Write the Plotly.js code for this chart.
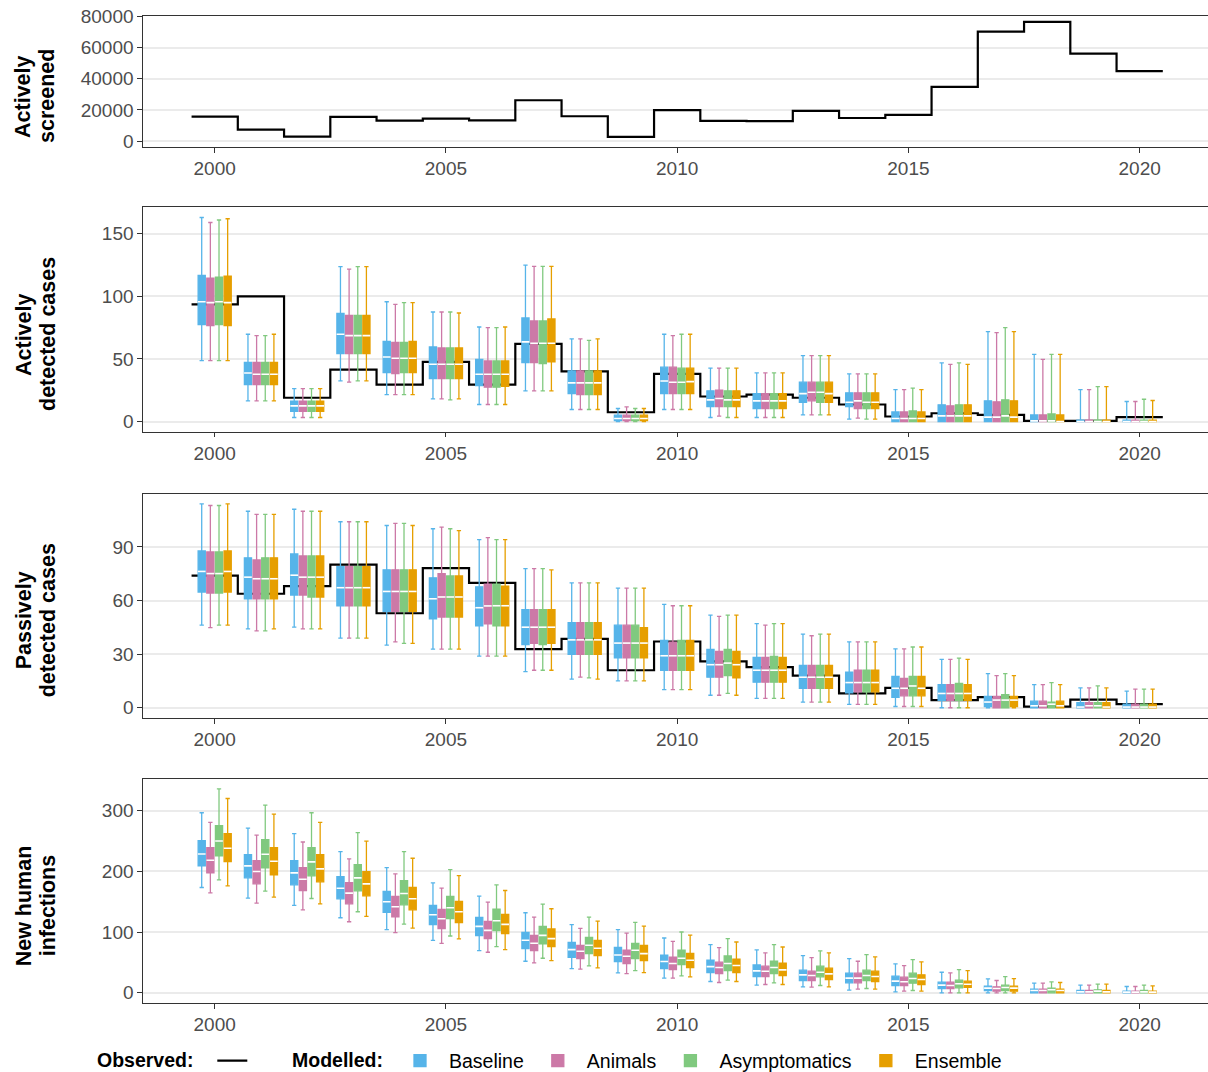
<!DOCTYPE html>
<html>
<head>
<meta charset="utf-8">
<script src="https://cdn.plot.ly/plotly-3.0.1.min.js"></script>
<style>html,body{margin:0;padding:0;background:#fff;}#chart{width:1208px;height:1072px;}</style>
</head>
<body>
<div id="chart"></div>
<script>
// ---------------- DATA ----------------
const years = [2000,2001,2002,2003,2004,2005,2006,2007,2008,2009,2010,2011,2012,2013,2014,2015,2016,2017,2018,2019,2020];
const modelNames = ['Baseline','Animals','Asymptomatics','Ensemble'];

const observedScreened = [15700,7300,2800,15500,13100,14400,13300,26200,15900,2600,19800,12900,12800,19400,14800,16800,34800,70300,76500,56100,44900];
const observedActive   = [93.6,100,19,41.5,29.5,47.6,29.5,62,40,7.4,38,20,21.5,19,13.6,4,6.6,5.3,0.5,0.5,3.5];
const observedPassive  = [74,63.8,68.1,80.1,52.9,78.1,69.9,32.8,38.6,21,37.1,26,22.8,18,8,11.1,4.3,5.9,0.6,4.5,2];

// rows per year: [lower whisker, q1, median, q3, upper whisker]
const activeBaseline = [[48.7,77.4,95.7,116.8,163],[16.5,29.5,38.8,47.3,69.7],[3.2,8.2,12.5,16.2,26.3],[32.4,54.3,69.7,86.4,123.7],[21.5,39.1,51.6,64.1,95.7],[18.1,34.3,45.7,59.6,87.5],[13.6,28.7,37.8,49.7,75.5],[24.5,47.1,63.6,82.7,125],[9.6,22.3,30.9,40.4,66],[0,0.8,2.4,5.1,10.4],[9.6,22.3,32.4,43.4,69.7],[3.2,12,17.3,24.5,42.6],[3.2,10.4,16.5,22.3,38.8],[5.3,15.4,22.3,31.4,52.7],[1.9,12,15.4,22.9,38],[0,0,2.4,7.7,25.5],[0,0,4.5,13.3,46.8],[0,0,3.5,16.5,71.8],[0,0,0.5,5.3,53.7],[0,0,0,1,25.5],[0,0,0,1,16]];
const activeAnimals = [[48.7,76.6,95,114.6,159],[16.5,29.5,37.8,47.3,68.6],[3.2,8.2,12.5,16.2,26.3],[31.4,54.3,68.6,84.8,121.8],[21.5,38.3,50.5,63.3,93.6],[18.1,34.3,45.7,58.8,87.5],[13.6,27.4,37.8,48.4,75],[24.5,47.1,62.5,80.3,123.9],[9.6,21.5,30.9,40.4,66],[0,0.8,2.4,5.1,11.7],[9.6,22.3,31.4,43.4,68.6],[4.3,12,18.4,25,42.6],[3.2,10.4,16.5,22.3,38.8],[5.3,16.5,23.4,31.4,52.7],[2.7,10.4,16.5,22.9,38],[0,0,2.4,7.7,25.5],[0,0,4.5,12.5,45.7],[0,0,3.5,15.7,71],[0,0,0.5,5.3,49.7],[0,0,0,1,25.5],[0,0,0,1,16]];
const activeAsymptomatics = [[48.7,77.4,95.7,115.4,161],[16.5,29.5,37.8,47.3,68.6],[3.2,8.2,12.5,16.2,26.3],[32.4,54.3,68.6,84.8,123.7],[21.5,39.1,50.5,63.3,95],[17.3,34.3,45.7,58.8,87.5],[13.6,27.4,37.8,48.4,75],[24.5,46.3,62.5,80.3,123.9],[9.6,21.5,30.9,40.4,64.9],[0,0.8,2.4,5.1,10.4],[9.6,22.3,31.4,42.6,69.7],[3.2,12,17.3,24.5,42.6],[3.2,10.4,16.5,22.3,38.8],[5.3,15.4,23.4,31.4,52.7],[1.9,10.4,15.4,22.9,38],[0,0,2.4,8.5,26.6],[0,0,4.5,13.3,46.8],[0,0,4.5,17.3,75],[0,0,0.5,6.1,53.7],[0,0,0,1,27.9],[0,0,0,1,17.8]];
const activeEnsemble = [[48.7,76.6,95,116.2,162],[16.5,29.5,37.8,47.3,69.7],[3.2,8.2,12.5,16.2,26.3],[32.4,54.3,68.6,84.8,123.7],[21.5,39.1,50.5,64.1,95],[18.1,34.3,45.7,58.8,86.7],[13.6,28,37.8,48.4,75.5],[24.5,47.6,62.5,81.9,123.9],[9.6,21.5,30.9,40.4,66],[0,0.8,2.4,5.1,10.4],[9.6,22.3,31.9,42.6,69.7],[3.2,12,17.3,24.5,42.6],[3.2,10.4,16.5,22.3,38.8],[5.3,15.4,22.3,31.4,52.7],[1.9,10.4,15.4,22.9,38],[0,0,2.4,7.7,25.5],[0,0,4.5,13.3,45.7],[0,0,3.5,16.5,71.8],[0,0,0,5.3,53.7],[0,0,0,1,27.9],[0,0,0,1,16.8]];

const passiveBaseline = [[46.2,64.8,76.3,87.8,114.1],[44.2,60.9,73.1,83.9,110],[45.1,63.1,74.2,86.1,111.1],[39,57,67.2,79,104.1],[35.1,54,65.1,77.2,102],[32.8,49.7,61,72.7,100.2],[28.9,45.8,56,67.7,94.1],[20.2,35.4,45.1,54.9,77.9],[16,29.9,38,47.7,69.9],[15,28,36.2,46.2,67],[10.2,21,29.1,37.7,57.9],[7,17.1,24.1,32.7,51.9],[5.2,14.3,21,28.2,47.1],[3.2,10.8,17.1,23.7,41.2],[1.9,8.3,14.1,20,36.9],[0.7,5.8,10.9,17.6,33],[0,4.1,8,13,27.1],[0,0.7,3.2,6.3,19.1],[0,0,1.1,3.7,13],[0,0,0.4,2.8,11.1],[0,0,0.4,2,9.3]];
const passiveAnimals = [[44.9,64.2,75.1,87.2,113.2],[43,60.9,72.2,82.7,108.2],[44.2,63.1,73.1,85,110],[39,57,67.2,79,104.1],[36.9,54,65.1,77.2,103.2],[32.8,50.8,62,75,101.1],[28.9,46.9,57,69.2,95.2],[21,36,45.1,54.9,77.9],[17.1,29.9,38,47.7,69.9],[15,28,36.2,46.2,67],[10.2,21,29.1,36.7,57.1],[7,17.1,24.1,31.5,51.2],[5.2,14.3,21,28.2,46.2],[3.2,10.8,17.1,23.7,40.3],[1.9,8.9,14.1,21,36.9],[0.7,6.7,10.9,16.5,33],[0,4.1,8,13,27.1],[0,0,4.3,6.3,18],[0,0,1.1,3.7,13],[0,0,1.1,2.8,11.1],[0,0,0.4,2,10.4]];
const passiveAsymptomatics = [[46.2,64.2,75.1,87.2,113.2],[43,60.9,72.2,83.9,108.2],[44.2,62,73.1,85,110],[39,57,67.2,79,104.1],[36,54,65.1,77.2,103.2],[32.8,50.8,62,73.8,100.2],[28.9,45.8,57.1,69.2,94.1],[21,35.4,45.1,54.9,77.9],[16.7,29.9,38,47.7,69.9],[15,28,36.2,46.2,67],[10.2,21,29.1,37.7,57.1],[8,18,25,32.7,51.9],[5.2,14.3,21,28.8,47.1],[3.2,10.8,17.1,23.7,41.2],[1.9,8.9,14.1,21,36.9],[0.7,6.7,12.2,17.6,34],[0,4.1,8,13.7,27.8],[0,0,4.3,7.4,19.1],[0,0,2,3.2,14.1],[0,0,1.1,2.8,12.2],[0,0,0.4,2,10.4]];
const passiveEnsemble = [[46.2,64.8,76.3,87.8,114.1],[44.2,60.9,72.2,83.9,108.2],[44.2,62,73.1,85,110],[39,57,67.2,79,104.1],[36,54,65.1,77.2,102],[32.8,50.8,62,73.8,99.1],[28.9,45.8,57.1,68.1,94.1],[21,36,45.1,54.9,77.2],[16,29.9,38,47.7,69.9],[15,28,36.2,44.9,67],[10.2,21,29.1,37.7,57.1],[7,16.7,24.1,31.5,51.9],[5.2,14.3,21,28.2,47.1],[3.2,10.8,17.1,23.7,41.2],[1.9,8.9,14.1,21,36.9],[0.7,6.7,10.9,17.6,34],[0,4.1,8,13,27.1],[0,0.7,4.3,6.3,18],[0,0,1.1,3.7,13],[0,0,0.4,2.8,11.1],[0,0,0.4,2,10.4]];

const infectionsBaseline = [[173.5,209.1,228.8,250.7,296.7],[156,189.4,209.1,227.7,271.5],[144,177.9,197.6,217.8,262.2],[123.7,154.9,172.4,191.6,232.6],[104,132.5,150,166.9,206.3],[86.5,112.2,128.6,144,181.2],[69.5,94.1,109.5,124.2,159.3],[52,72.8,86.5,99.6,131.9],[40,58.6,71.2,83.2,112.2],[32.8,51.5,62.4,75,104],[24.1,40,51.5,61.9,90.3],[18.6,33.4,43.2,53.6,79.4],[12.6,26.8,36.1,46,70.6],[9.9,20.3,29.6,37.2,61.3],[4.4,16.4,24.1,32.3,56.4],[1.6,12,19.2,27.4,47.6],[0,7.1,12.6,17.5,33.9],[0,3.8,7.7,10.9,23],[0,0,3.8,6,15.9],[0,0,1.6,3.8,12.6],[0,0,1.1,2.7,10.4]];
const infectionsAnimals = [[164.8,197.6,218.4,239.2,280.8],[147.8,179.5,199.8,217.8,260],[136.8,168.6,187.2,206.3,248.5],[117.1,146.7,164.2,181.7,220.6],[99.1,125.3,141.8,158.7,196],[81.6,105.6,122.1,137.4,172.4],[66.8,89.2,102.9,117.7,149.4],[49.3,69.5,81.6,94.7,124.8],[38.9,56.4,68.4,78.3,106.2],[31.7,48.2,60.2,70.1,98.5],[24.1,38.3,48.2,58.6,84.8],[17,31.7,41.6,50.4,74.4],[13.7,26.8,35.6,43.8,65.7],[9.3,20.3,28.5,35.6,58],[6,16.4,24.1,32.3,52],[2.7,12,18.1,25.7,44.9],[0,7.1,12,17.5,32.8],[0,2.7,7.1,9.9,20.3],[0,0,3.8,6,15.9],[0,0,1.6,3.8,12.6],[0,0,1.1,2.7,10.4]];
const infectionsAsymptomatics = [[186.1,225.5,250.1,275.3,336.1],[167.5,205.8,228.2,252.3,309.2],[155.4,192.7,215.7,239.2,296.7],[133.6,168,189.4,211.3,263.8],[113.3,145,163.7,185,232.6],[93.6,122.1,140.1,158.7,203.1],[76.1,102.4,118.8,137.9,177.9],[56.9,80.5,94.7,109.5,146.1],[44.3,64.6,78.3,91.4,124.8],[36.7,56.4,70.1,81.6,116],[27.9,46.5,56.9,70.1,100.2],[20.8,36.7,48.2,60.8,89.2],[16.4,31.7,41.6,52,79.4],[12,26.3,33.9,43.8,69],[7.1,20.3,28.5,37.2,62.9],[3.8,15.9,23.5,32.3,54.7],[0,8.2,14.8,20.8,38.3],[0,3.8,8.8,12.6,26.8],[0,0,4.9,7.7,18.1],[0,0,2.7,4.9,14.2],[0,0,1.6,3.8,12.6]];
const infectionsEnsemble = [[176.2,216.2,238.1,262.2,320.2],[157.6,194.3,216.7,239.2,294.5],[146.7,182.8,204.2,227.7,280.8],[125.9,159.8,179.5,199.8,250.1],[106.7,136.8,154.9,173.5,221.7],[88.7,115.5,133.6,150.5,193.2],[71.2,97.4,112.8,129.2,168.6],[53.1,76.1,89.2,105.1,138.5],[41.1,61.3,73.3,86.5,118.2],[33.4,53.1,64.6,78.3,110],[26.3,41.6,53.6,65.1,95.2],[18.6,33.4,44.9,55.3,83.7],[13.7,28.5,37.8,48.7,75.5],[9.9,21.9,31.2,40.5,65.7],[6,18.6,26.8,35.6,59.1],[2.7,13.7,21.9,29.6,50.9],[0,8.8,14.2,19.2,36.7],[0,2.7,7.7,10.9,23.5],[0,0,3.8,6,17],[0,0,1.6,3.8,14.2],[0,0,1.1,2.7,11.5]];

const xTickVals = [2000,2005,2010,2015,2020];
const panelTitles = [['Actively','screened'],['Actively','detected cases'],['Passively','detected cases'],['New human','infections']];

// ---------------- STYLE ----------------
const modelColors = ['#56B4E9','#CC79A7','#80C97F','#E69F00'];
const FONT = 'Liberation Sans, Arial, Helvetica, sans-serif';
const TICK_SIZE = 19, LEGEND_SIZE = 19.5;
const BOX_STEP = 0.187, BOX_WIDTH = 0.155;
const OBS_WIDTH = 2.2;
const PLOT_TOP = 16, PLOT_BOTTOM_MARGIN = 69, H = 1072;
const PLOT_H = H - PLOT_TOP - PLOT_BOTTOM_MARGIN;
const domains = [[0.8673,1],[0.5788,0.8062],[0.2888,0.5160],[0,0.2273]];

// ---------------- TRACES ----------------
const traces = [];
const shapes = [];

// observed step series: year-long flat steps (year-0.5 .. year+0.5)
function stepX() { return years.map(y => y - 0.5).concat([years[years.length-1] + 0.5]); }
function stepY(obs) { return obs.concat([obs[obs.length-1]]); }

function stepTrace(obs, xa, ya, showLegend) {
  return {type:'scatter', mode:'lines', x:stepX(), y:stepY(obs), name:'',
    line:{shape:'hv', color:'#000000', width:OBS_WIDTH},
    xaxis:xa, yaxis:ya, showlegend:showLegend, legend:'legend', hoverinfo:'skip'};
}
// same step series, drawn on the axes as a path beneath the box traces
function stepShape(obs, xa, ya) {
  const xs = stepX(), ys = stepY(obs);
  let d = 'M' + xs[0] + ',' + ys[0];
  for (let i = 1; i < xs.length; i++) {
    d += ' L' + xs[i] + ',' + ys[i-1] + ' L' + xs[i] + ',' + ys[i];
  }
  return {type:'path', path:d, xref:xa, yref:ya, layer:'between',
    line:{color:'#000000', width:OBS_WIDTH}, fillcolor:'rgba(0,0,0,0)'};
}

function addBoxes(statSets, xa, ya, showLegend) {
  statSets.forEach((rows, k) => {
    const off = (k - 1.5) * BOX_STEP;
    const xs = years.map(y => y + off);
    const col = modelColors[k];
    traces.push({type:'box', name:modelNames[k], x:xs,
      lowerfence:rows.map(r=>r[0]), q1:rows.map(r=>r[1]), median:rows.map(r=>r[2]),
      q3:rows.map(r=>r[3]), upperfence:rows.map(r=>r[4]),
      width:BOX_WIDTH, whiskerwidth:0.6, boxpoints:false,
      fillcolor:col, line:{color:col, width:1.3},
      xaxis:xa, yaxis:ya, showlegend:showLegend, legend:'legend2',
      legendgroup:modelNames[k], hoverinfo:'skip'});
  });
  statSets.forEach((rows, k) => {
    const off = (k - 1.5) * BOX_STEP;
    traces.push({type:'scatter', mode:'markers', x:years.map(y => y + off), y:rows.map(r=>r[2]),
      marker:{symbol:'line-ew', size:5.5, color:'#ffffff', line:{color:'#ffffff', width:1.6}},
      xaxis:xa, yaxis:ya, showlegend:false, hoverinfo:'skip'});
  });
}

const activeSets = [activeBaseline, activeAnimals, activeAsymptomatics, activeEnsemble];
const passiveSets = [passiveBaseline, passiveAnimals, passiveAsymptomatics, passiveEnsemble];
const infectionSets = [infectionsBaseline, infectionsAnimals, infectionsAsymptomatics, infectionsEnsemble];

traces.push(stepTrace(observedScreened, 'x', 'y', true));
shapes.push(stepShape(observedActive, 'x2', 'y2'));
shapes.push(stepShape(observedPassive, 'x3', 'y3'));
addBoxes(activeSets, 'x2', 'y2', true);
addBoxes(passiveSets, 'x3', 'y3', false);
addBoxes(infectionSets, 'x4', 'y4', false);

function maxOf(sets, obs) {
  let m = obs ? Math.max(...obs) : 0;
  sets.forEach(rows => rows.forEach(r => { m = Math.max(m, r[4]); }));
  return m;
}
function expand(m) { return [-0.05 * m, 1.05 * m]; }

const r1 = expand(Math.max(...observedScreened));
const r2 = expand(maxOf(activeSets, observedActive));
const r3 = expand(maxOf(passiveSets, observedPassive));
const r4 = expand(maxOf(infectionSets, null));

// ---------------- LAYOUT ----------------
function xAxis(anchor) {
  return {anchor:anchor, domain:[0,1], range:[1998.45, 2021.477], tickvals:xTickVals,
    ticks:'outside', ticklen:4.5, tickwidth:1.2, tickcolor:'#333333',
    showline:true, mirror:true, linecolor:'#333333', linewidth:1.3,
    showgrid:false, zeroline:false, fixedrange:true,
    tickfont:{family:FONT, size:TICK_SIZE, color:'#4D4D4D'}};
}
function yAxis(anchor, dom, range, dtick) {
  return {anchor:anchor, domain:dom, range:range, tick0:0, dtick:dtick, tickformat:'d',
    ticks:'outside', ticklen:4.5, tickwidth:1.2, tickcolor:'#333333',
    showline:true, mirror:false, linecolor:'#333333', linewidth:1.3,
    showgrid:true, gridcolor:'#EBEBEB', gridwidth:1.5, zeroline:false, fixedrange:true,
    tickfont:{family:FONT, size:TICK_SIZE, color:'#4D4D4D'}};
}

const annotations = [];
const titleX = [(23.5 - 143) / 1065, (47.5 - 143) / 1065];
panelTitles.forEach((lines, i) => {
  const d = domains[i];
  const yc = (d[0] + d[1]) / 2 - 15 / PLOT_H;
  lines.forEach((txt, j) => {
    annotations.push({text:'<b>' + txt + '</b>', xref:'paper', yref:'paper',
      x:titleX[j], y:yc, xanchor:'center', yanchor:'middle', textangle:-90,
      showarrow:false, font:{family:FONT, size:21.5, color:'#000000'}});
  });
});

const legendY = (1003 - 1061) / PLOT_H;
const layout = {
  width:1208, height:H,
  margin:{l:143, r:0, t:PLOT_TOP, b:PLOT_BOTTOM_MARGIN, autoexpand:false},
  paper_bgcolor:'#ffffff', plot_bgcolor:'#ffffff',
  font:{family:FONT, size:LEGEND_SIZE, color:'#000000'},
  boxmode:'overlay', hovermode:false, showlegend:true,
  legend:{orientation:'h', x:(95 - 143)/1065, xanchor:'left', y:legendY, yanchor:'middle',
    title:{text:'<b>Observed:</b>&nbsp;&nbsp;', side:'left', font:{family:FONT, size:LEGEND_SIZE, color:'#000000'}},
    font:{family:FONT, size:LEGEND_SIZE, color:'#000000'}, bgcolor:'rgba(0,0,0,0)', borderwidth:0},
  legend2:{orientation:'h', x:(290 - 143)/1065, xanchor:'left', y:legendY, yanchor:'middle', itemwidth:48,
    title:{text:'<b>Modelled:</b>', side:'left', font:{family:FONT, size:LEGEND_SIZE, color:'#000000'}},
    font:{family:FONT, size:LEGEND_SIZE, color:'#000000'}, bgcolor:'rgba(0,0,0,0)', borderwidth:0,
    traceorder:'normal'},
  xaxis:xAxis('y'), xaxis2:xAxis('y2'), xaxis3:xAxis('y3'), xaxis4:xAxis('y4'),
  yaxis:yAxis('x', domains[0], r1, 20000),
  yaxis2:yAxis('x2', domains[1], r2, 50),
  yaxis3:yAxis('x3', domains[2], r3, 30),
  yaxis4:yAxis('x4', domains[3], r4, 100),
  shapes:shapes,
  annotations:annotations
};

Plotly.newPlot('chart', traces, layout, {displayModeBar:false, responsive:false});
</script>
</body>
</html>
